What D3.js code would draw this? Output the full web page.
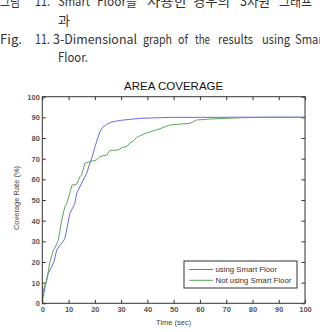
<!DOCTYPE html>
<html><head><meta charset="utf-8">
<script src="https://cdn.jsdelivr.net/npm/d3@7"></script>
<style>
html,body{margin:0;padding:0;background:#fff;}
svg{display:block;}
</style></head>
<body>
<script>
// ---- data ----
const xTicks = [0,10,20,30,40,50,60,70,80,90,100];
const yTicks = [0,10,20,30,40,50,60,70,80,90,100];
const seriesNames = ["using Smart Floor", "Not using Smart Floor"];
const smartTime = [0,0.4,1.2,2.3,3.6,4.5,5.5,6.7,8,8.6,9.5,10.5,11.5,12.4,13.1,14.3,15.5,16.9,18.1,19,20,21,21.9,23,24.5,26,28.3,30,33.3,37.1,43.5,50,60,80,100];
const smartRate = [1.5,3.2,9,14.5,17.7,20.5,25.8,28.2,30,31.5,37,43.6,46,48.4,53.2,56.4,59.5,62.9,67.8,71,75.5,79.5,83,85.2,86.6,87.6,88.2,88.6,89,89.5,89.8,90,90,90.1,90.1];
const noSmartTime = [0,0.5,1.7,2.9,4.2,4.8,6.1,7.4,8.6,9.3,9.9,10.8,11.3,12.4,13.1,14.3,15,16.2,18.1,20.7,21.9,24.5,25.7,28.9,30.5,32.1,33.3,34.6,35.9,37.1,39.7,43.5,48.5,52,56.2,58.7,63.8,75.2,85,100];
const noSmartRate = [2,7,11.3,20,25.8,26.8,30.6,40.3,46.8,48.4,50.8,54.8,57.3,57.3,57.7,61.3,62,67.8,68.5,69.4,71,71.8,74,74.2,75.5,75.8,77.6,78.5,80.3,81,82.5,83.9,86.3,86.7,87.1,88.7,89.2,89.8,90,90];
const colors = ["#6a6ae0", "#5ea55e"];

const W = 320, H = 332;
const svg = d3.select("body").append("svg").attr("width", W).attr("height", H);
svg.append("rect").attr("width", W).attr("height", H).attr("fill", "#fff");

// ---- caption ----
const cap = svg.append("g").attr("font-family", "'Noto Sans CJK KR', 'Noto Sans', sans-serif")
  .attr("font-size", 13).attr("fill", "#333");
const capWords = [
  {t:"그림", x:0, y:6, w:20}, {t:"11.", x:35, y:6, w:15}, {t:"Smart", x:58, y:6, w:32},
  {t:"Floor를", x:97, y:6, w:40}, {t:"사용한", x:147, y:6, w:40}, {t:"경우의", x:193, y:6, w:37},
  {t:"3차원", x:240, y:6, w:30}, {t:"그래프", x:279, y:6, w:33}, {t:"결", x:320, y:6, w:12},
  {t:"과", x:58, y:25, w:12},
  {t:"Fig.", x:0, y:44, w:22}, {t:"11.", x:35, y:44, w:15}, {t:"3-Dimensional", x:53, y:44, w:84},
  {t:"graph", x:143, y:44, w:29}, {t:"of", x:178, y:44, w:10}, {t:"the", x:195, y:44, w:15},
  {t:"results", x:218, y:44, w:35}, {t:"using", x:262, y:44, w:28}, {t:"Smart", x:295, y:44, w:32},
  {t:"Floor.", x:58, y:62, w:30}
];
cap.selectAll("text").data(capWords).join("text")
  .attr("x", d => d.x).attr("y", d => d.y)
  .attr("textLength", d => d.w).attr("lengthAdjust", "spacingAndGlyphs")
  .text(d => d.t);

// ---- chart ----
const m = {left: 42.3, right: 305, top: 96.7, bottom: 303.3};
const x = d3.scaleLinear().domain([0,100]).range([m.left, m.right]);
const y = d3.scaleLinear().domain([0,100]).range([m.bottom, m.top]);

svg.append("text").attr("x", (m.left+m.right)/2).attr("y", 90)
  .attr("text-anchor", "middle").attr("font-family", "'Liberation Sans', Arial, sans-serif")
  .attr("font-size", 11.5).attr("fill", "#111").text("AREA COVERAGE");

const tickFont = g => g.selectAll("text").attr("font-family", "'Liberation Sans', Arial, sans-serif")
  .attr("font-size", 7.5).attr("font-weight", "bold").attr("fill", "#555");
const axisStyle = g => { g.select(".domain").remove(); g.selectAll("line").attr("stroke", "#333"); };

svg.append("g").attr("transform", `translate(0,${m.bottom})`)
  .call(d3.axisBottom(x).tickValues(xTicks).tickSize(-3.5).tickPadding(3.5))
  .call(axisStyle).call(tickFont);
svg.append("g").attr("transform", `translate(${m.left},0)`)
  .call(d3.axisLeft(y).tickValues(yTicks).tickSize(-3.5).tickPadding(2.5))
  .call(axisStyle).call(tickFont);
svg.append("g").attr("transform", `translate(0,${m.top})`)
  .call(d3.axisTop(x).tickValues(xTicks).tickSize(-3.5).tickFormat(""))
  .call(axisStyle);
svg.append("g").attr("transform", `translate(${m.right},0)`)
  .call(d3.axisRight(y).tickValues(yTicks).tickSize(-3.5).tickFormat(""))
  .call(axisStyle);

// lines
const line = d3.line().x(d => x(d[0])).y(d => y(d[1]));
const seriesData = [d3.zip(smartTime, smartRate), d3.zip(noSmartTime, noSmartRate)];
svg.append("g").selectAll("path").data(seriesData).join("path")
  .attr("d", line).attr("fill", "none").attr("stroke", (d,i) => colors[i]).attr("stroke-width", 1);

// frame
svg.append("rect").attr("x", m.left).attr("y", m.top)
  .attr("width", m.right - m.left).attr("height", m.bottom - m.top)
  .attr("fill", "none").attr("stroke", "#333").attr("stroke-width", 1);

// axis labels
svg.append("text").attr("x", (m.left+m.right)/2).attr("y", 324.5)
  .attr("text-anchor", "middle").attr("font-family", "'Liberation Sans', Arial, sans-serif")
  .attr("font-size", 7.5).attr("fill", "#444").text("Time (sec)");
svg.append("text").attr("transform", "translate(19,198) rotate(-90)")
  .attr("text-anchor", "middle").attr("font-family", "'Liberation Sans', Arial, sans-serif")
  .attr("font-size", 7.5).attr("fill", "#444").text("Coverage Rate (%)");

// legend
const lg = svg.append("g");
lg.append("rect").attr("x", 184).attr("y", 261).attr("width", 113).attr("height", 27)
  .attr("fill", "#fff").attr("stroke", "#333").attr("stroke-width", 1);
const rows = lg.selectAll("g.row").data(seriesNames).join("g").attr("class", "row")
  .attr("transform", (d,i) => `translate(0,${269.5 + i*10.8})`);
rows.append("line").attr("x1", 189).attr("x2", 213).attr("stroke", (d,i) => colors[i]).attr("stroke-width", 1);
rows.append("text").attr("x", 215.5).attr("y", 2.8)
  .attr("font-family", "'Liberation Sans', Arial, sans-serif").attr("font-size", 7.8)
  .attr("fill", "#333").text(d => d);
</script>
</body></html>
